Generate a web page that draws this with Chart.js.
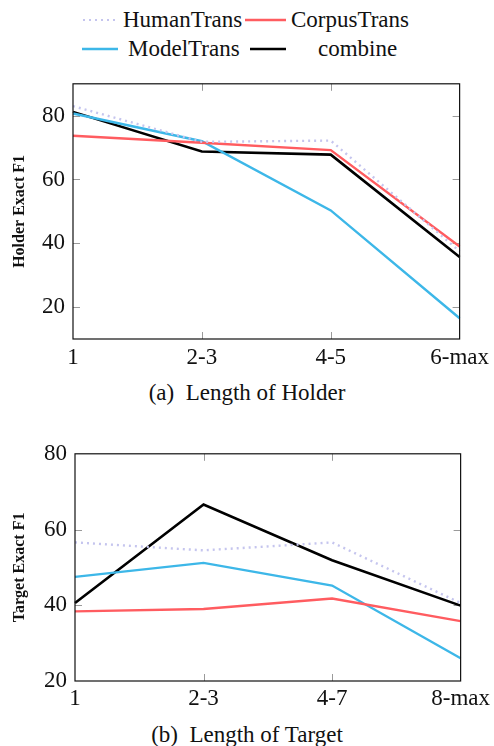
<!DOCTYPE html>
<html>
<head>
<meta charset="utf-8">
<script src="https://cdn.jsdelivr.net/npm/chart.js@4"></script>
<style>
  body { margin: 0; background: #fff; }
  #wrap { position: relative; width: 494px; height: 746px; font-family: 'Liberation Serif', 'Times New Roman', serif; color: #111; }
  canvas { position: absolute; left: 0; }
  .leg { position: absolute; font-size: 23px; line-height: 1; white-space: nowrap; }
  .leg svg { position: absolute; }
  .cap { position: absolute; left: 0; width: 494px; text-align: center; font-size: 23px; }
</style>
</head>
<body>
<div id="wrap">
  <div class="leg" style="left:0;top:0;width:494px;height:64px">
    <svg style="left:82px;top:18px" width="36" height="4"><line x1="1" y1="2" x2="36" y2="2" stroke="#c5c5ee" stroke-width="2" stroke-dasharray="2,4"/></svg>
    <span style="position:absolute;left:123px;top:8px">HumanTrans</span>
    <svg style="left:245px;top:18px" width="41" height="4"><line x1="0" y1="2" x2="41" y2="2" stroke="#ff5c60" stroke-width="2.4"/></svg>
    <span style="position:absolute;left:291px;top:8px">CorpusTrans</span>
    <svg style="left:82px;top:47px" width="36" height="4"><line x1="0" y1="2" x2="36" y2="2" stroke="#3db7e8" stroke-width="2.4"/></svg>
    <span style="position:absolute;left:128px;top:37px">ModelTrans</span>
    <svg style="left:250px;top:47px" width="36" height="4"><line x1="0" y1="2" x2="36" y2="2" stroke="#000" stroke-width="2.6"/></svg>
    <span style="position:absolute;left:318px;top:37px">combine</span>
  </div>
  <canvas id="holder" width="494" height="318" style="top:62px"></canvas>
  <div class="cap" style="top:380px">(a)&nbsp; Length of Holder</div>
  <canvas id="target" width="494" height="282" style="top:432px"></canvas>
  <div class="cap" style="top:722px">(b)&nbsp; Length of Target</div>
</div>
<script>
const SERIF = "'Liberation Serif', 'Times New Roman', serif";

const holderLabels = ['1', '2-3', '4-5', '6-max'];
const holderHuman  = [83.0, 71.8, 72.2, 37.5];
const holderCorpus = [73.7, 71.5, 69.2, 39.0];
const holderModel  = [80.7, 72.0, 50.3, 16.5];
const holderCombine = [81.2, 68.8, 67.8, 35.7];
const holderTicks = [20, 40, 60, 80];

const targetLabels = ['1', '2-3', '4-7', '8-max'];
const targetHuman  = [56.6, 54.5, 56.6, 40.6];
const targetCorpus = [38.4, 39.0, 41.8, 35.8];
const targetModel  = [47.5, 51.2, 45.2, 26.0];
const targetCombine = [40.6, 66.6, 51.9, 39.9];
const targetTicks = [20, 40, 60, 80];

const COLORS = { human: '#c5c5ee', corpus: '#ff5c60', model: '#3db7e8', combine: '#000000' };

// pgfplots-style frame + inward tick marks
const framePlugin = {
  id: 'frame',
  beforeDatasetsDraw(chart) {
    const { ctx, chartArea: a, scales: { x, y } } = chart;
    ctx.save();
    ctx.strokeStyle = '#9a9a9a'; ctx.lineWidth = 1;
    ctx.beginPath();
    x.ticks.forEach((t, i) => {
      if (i === 0 || i === x.ticks.length - 1) return;
      const px = Math.round(x.getPixelForTick(i)) + 0.5;
      ctx.moveTo(px, a.bottom); ctx.lineTo(px, a.bottom - 7);
      ctx.moveTo(px, a.top); ctx.lineTo(px, a.top + 7);
    });
    y.ticks.forEach(t => {
      if (t.value <= y.min || t.value >= y.max) return;
      const py = Math.round(y.getPixelForValue(t.value)) + 0.5;
      ctx.moveTo(a.left, py); ctx.lineTo(a.left + 7, py);
      ctx.moveTo(a.right, py); ctx.lineTo(a.right - 7, py);
    });
    ctx.stroke();
    ctx.restore();
  },
  afterDraw(chart) {
    const { ctx, chartArea: a } = chart;
    ctx.save();
    ctx.strokeStyle = '#111'; ctx.lineWidth = 1.2;
    ctx.strokeRect(a.left, a.top, a.right - a.left, a.bottom - a.top);
    ctx.restore();
  }
};

function makeDatasets(human, corpus, model, combine) {
  return [
    { label: 'HumanTrans', data: human, borderColor: COLORS.human, borderWidth: 2.4, borderDash: [2, 4] },
    { label: 'CorpusTrans', data: corpus, borderColor: COLORS.corpus, borderWidth: 2.4 },
    { label: 'ModelTrans', data: model, borderColor: COLORS.model, borderWidth: 2.4 },
    { label: 'combine', data: combine, borderColor: COLORS.combine, borderWidth: 2.6 },
  ].map(d => ({ ...d, pointRadius: 0, tension: 0, fill: false, backgroundColor: d.borderColor }));
}

function perfChart(canvasId, labels, datasets, yOpts) {
  const ctx = document.getElementById(canvasId);
  return new Chart(ctx, {
    type: 'line',
    data: { labels, datasets },
    plugins: [framePlugin],
    options: {
      responsive: false, animation: false,
      layout: { padding: { top: yOpts.padTop, right: yOpts.padRight, left: 0, bottom: 0 } },
      plugins: { legend: { display: false }, tooltip: { enabled: false } },
      scales: {
        x: {
          offset: false,
          grid: { display: false, drawTicks: false },
          border: { display: false },
          ticks: { color: '#111', font: { family: SERIF, size: 23 }, padding: yOpts.xPad, maxRotation: 0, autoSkip: false },
          afterFit: s => { s.height = yOpts.xHeight; },
        },
        y: {
          min: yOpts.min, max: yOpts.max,
          grid: { display: false, drawTicks: false },
          border: { display: false },
          afterBuildTicks: s => { s.ticks = yOpts.ticks.map(v => ({ value: v })); },
          ticks: { color: '#111', font: { family: SERIF, size: 23 }, padding: 8 },
          title: { display: true, text: yOpts.title, color: '#111', font: { family: SERIF, size: 16, weight: 'bold' }, padding: { top: 10, bottom: 0 } },
          afterFit: s => { s.width = yOpts.yWidth; },
        }
      }
    }
  });
}

document.fonts.load("23px 'Liberation Serif'").then(() => {
  perfChart('holder', holderLabels,
    makeDatasets(holderHuman, holderCorpus, holderModel, holderCombine),
    { min: 10, max: 90, ticks: holderTicks, title: 'Holder Exact F1', padTop: 10, padRight: 32, xHeight: 41, yWidth: 73, xPad: 5 });

  perfChart('target', targetLabels,
    makeDatasets(targetHuman, targetCorpus, targetModel, targetCombine),
    { min: 20, max: 80, ticks: targetTicks, title: 'Target Exact F1', padTop: 12, padRight: 31, xHeight: 33, yWidth: 75, xPad: 4 });
});
</script>
</body>
</html>
